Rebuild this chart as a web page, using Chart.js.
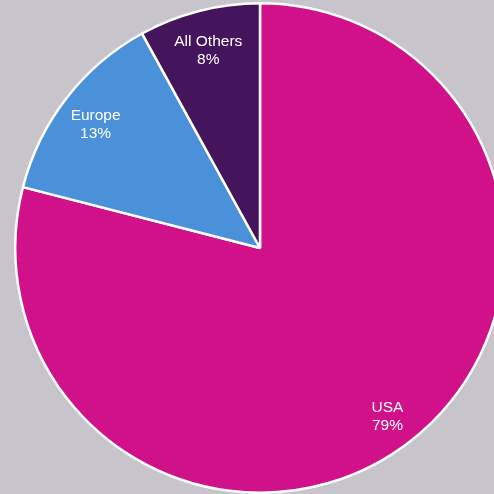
<!DOCTYPE html>
<html>
<head>
<meta charset="utf-8">
<script src="https://cdn.jsdelivr.net/npm/chart.js@4"></script>
<style>
  html, body { margin: 0; padding: 0; background: #c8c4cc; overflow: hidden; width: 494px; height: 494px; }
  #wrap { position: absolute; left: 14px; top: 2px; width: 492px; height: 492px; }
</style>
</head>
<body>
<div id="wrap"><canvas id="pie"></canvas></div>
<script>
// regions and their share of the total
const regions = ["USA", "Europe", "All Others"];
const shares = [79, 13, 8];
const sliceColors = ["rgb(208,17,137)", "rgb(74,145,218)", "rgb(68,20,92)"];

// writes name + percent inside each slice, along its middle angle
const sliceLabels = {
  id: "sliceLabels",
  afterDatasetsDraw(chart) {
    const ctx = chart.ctx;
    const meta = chart.getDatasetMeta(0);
    ctx.save();
    ctx.fillStyle = "#ffffff";
    ctx.font = "15.5px 'Liberation Sans', Arial, sans-serif";
    ctx.textAlign = "center";
    ctx.textBaseline = "middle";
    meta.data.forEach((arc, i) => {
      const p = arc.getProps(["x", "y", "startAngle", "endAngle", "outerRadius"], true);
      const mid = (p.startAngle + p.endAngle) / 2;
      const r = p.outerRadius * 0.85;
      const x = p.x + Math.cos(mid) * r;
      const y = p.y + Math.sin(mid) * r + 4;
      ctx.fillText(regions[i], x, y - 9);
      ctx.fillText(shares[i] + "%", x, y + 9);
    });
    ctx.restore();
  }
};

new Chart("pie", {
  type: "pie",
  data: {
    labels: regions,
    datasets: [{
      data: shares,
      backgroundColor: sliceColors,
      borderColor: "#ffffff",
      borderWidth: 2.5
    }]
  },
  options: {
    responsive: true,
    maintainAspectRatio: false,
    animation: false,
    layout: { padding: 0 },
    plugins: {
      legend: { display: false },
      tooltip: { enabled: false }
    }
  },
  plugins: [sliceLabels]
});
</script>
</body>
</html>
